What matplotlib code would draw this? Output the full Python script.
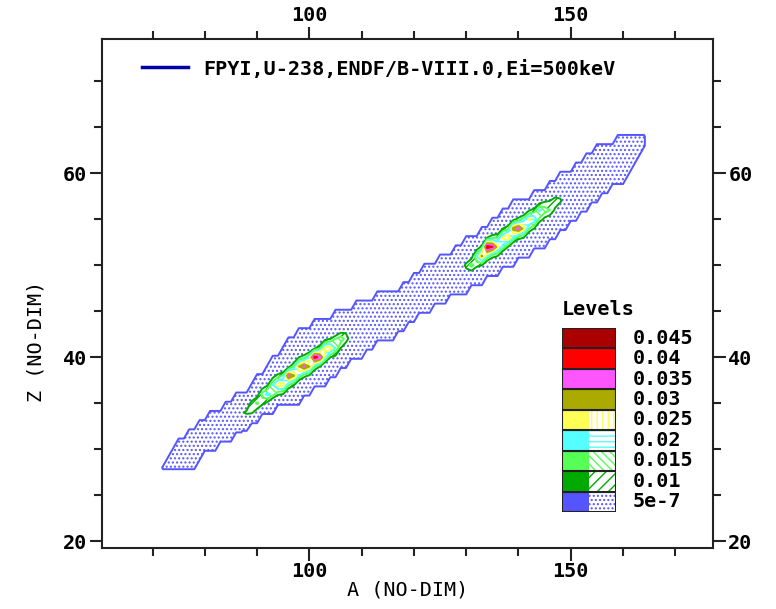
import numpy as np
import matplotlib
matplotlib.use('Agg')
import matplotlib.pyplot as plt
from matplotlib.ticker import MultipleLocator

# Nuclides tabulated in the evaluation: mass range covered for each charge Z
band_z = list(range(28, 65))
band_a_min = [72, 73, 74, 75, 77, 79, 81, 84, 86, 89, 90, 92, 93, 95, 96, 98, 101, 105, 109,
              113, 118, 120, 122, 125, 128, 130, 133, 135, 137, 139, 143, 146, 148, 151, 153, 155, 159]
band_a_max = [78, 79, 82, 85, 87, 90, 93, 98, 100, 103, 105, 107, 110, 112, 116, 118, 120, 123, 126,
              130, 133, 136, 139, 142, 145, 147, 149, 151, 153, 155, 157, 160, 161, 162, 163, 164, 164]
band_yield = 6e-7

# Light peak: independent yields at Z-1, Z, Z+1 around the most probable charge
light_mass = list(range(86, 110))
light_z = [34, 34, 34, 35, 35, 36, 36, 37, 37, 37, 38, 38, 39, 39, 39, 40, 40, 41, 41, 41, 42, 42, 43, 43]
light_low = [0.005, 0.004, 0.004, 0.011, 0.006, 0.012, 0.008, 0.018, 0.011, 0.010, 0.016, 0.011,
             0.020, 0.012, 0.009, 0.016, 0.010, 0.022, 0.010, 0.008, 0.010, 0.005, 0.006, 0.003]
light_mid = [0.007, 0.009, 0.011, 0.012, 0.016, 0.017, 0.022, 0.020, 0.027, 0.028, 0.036, 0.031,
             0.030, 0.036, 0.030, 0.042, 0.038, 0.027, 0.028, 0.020, 0.018, 0.013, 0.008, 0.006]
light_high = [0.002, 0.004, 0.006, 0.004, 0.007, 0.005, 0.009, 0.007, 0.012, 0.016, 0.007, 0.016,
              0.010, 0.013, 0.022, 0.009, 0.014, 0.008, 0.010, 0.015, 0.006, 0.008, 0.004, 0.003]

# Heavy peak
heavy_mass = list(range(128, 151))
heavy_z = [49, 49, 50, 50, 51, 51, 52, 52, 52, 53, 53, 54, 54, 54, 55, 55, 56, 56, 56, 57, 57, 58, 58]
heavy_low = [0.002, 0.003, 0.006, 0.005, 0.012, 0.010, 0.020, 0.012, 0.010, 0.018, 0.010, 0.020,
             0.012, 0.010, 0.016, 0.010, 0.014, 0.008, 0.006, 0.009, 0.005, 0.006, 0.003]
heavy_mid = [0.006, 0.008, 0.012, 0.017, 0.020, 0.031, 0.043, 0.040, 0.027, 0.026, 0.030, 0.032,
             0.037, 0.028, 0.026, 0.024, 0.021, 0.018, 0.015, 0.013, 0.011, 0.008, 0.005]
heavy_high = [0.002, 0.005, 0.003, 0.007, 0.005, 0.012, 0.010, 0.014, 0.016, 0.010, 0.014, 0.008,
              0.012, 0.018, 0.009, 0.012, 0.006, 0.009, 0.010, 0.005, 0.007, 0.003, 0.003]

levels = [5e-7, 0.01, 0.015, 0.02, 0.025, 0.03, 0.035, 0.04, 0.045]
level_labels = ['5e-7', '0.01', '0.015', '0.02', '0.025', '0.03', '0.035', '0.04', '0.045']
level_colors = ['#5555ff', '#00aa00', '#55ff55', '#55ffff', '#ffff55',
                '#aaaa00', '#ff55ff', '#ff0000', '#aa0000']
level_hatches = ['....', '///', '\\\\\\\\', '---', '|||', None, None, None, None]

plt.rcParams['font.family'] = ['DejaVu Sans Mono']
plt.rcParams['font.weight'] = 'bold'
plt.rcParams['font.size'] = 14.5

# Build the yield map on the integer (A, Z) grid
a_grid = np.arange(60, 179)
z_grid = np.arange(19, 76)
yields = np.zeros((len(z_grid), len(a_grid)))
for z, a0, a1 in zip(band_z, band_a_min, band_a_max):
    yields[z - z_grid[0], a0 - a_grid[0]:a1 - a_grid[0] + 1] = band_yield
for masses, zc, lo, mid, hi in [(light_mass, light_z, light_low, light_mid, light_high),
                                (heavy_mass, heavy_z, heavy_low, heavy_mid, heavy_high)]:
    for a, z, y0, y1, y2 in zip(masses, zc, lo, mid, hi):
        col = a - a_grid[0]
        for dz, y in zip((-1, 0, 1), (y0, y1, y2)):
            row = z + dz - z_grid[0]
            yields[row, col] = max(y, yields[row, col])

fig = plt.figure(figsize=(7.76, 6.09), dpi=100)
ax = fig.add_axes([0.1314, 0.1002, 0.7874, 0.8358])

bounds = levels + [1.0]
for lo, hi, color, hatch in zip(bounds[:-1], bounds[1:], level_colors, level_hatches):
    if hatch:
        with plt.rc_context({'hatch.color': color, 'hatch.linewidth': 1.0}):
            ax.contourf(a_grid, z_grid, yields, levels=[lo, hi], colors='white', hatches=[hatch])
    else:
        ax.contourf(a_grid, z_grid, yields, levels=[lo, hi], colors=[color])
ax.contour(a_grid, z_grid, yields, levels=levels, colors=level_colors, linewidths=1.4)

ax.set_xlim(60.33, 177.2)
ax.set_ylim(19.27, 74.6)

# top legend
ax.plot([], [], color='#0000aa', lw=2.5, label='FPYI,U-238,ENDF/B-VIII.0,Ei=500keV')
ax.legend(loc='center left', bbox_to_anchor=(0.065, 0.941), frameon=False, handlelength=2.3,
          handletextpad=0.75, borderpad=0, borderaxespad=0)

# level key
key = ax.inset_axes([0.753, 0.0707, 0.0884, 0.3615])
for i, (color, hatch) in enumerate(zip(level_colors, level_hatches)):
    key.barh(i, 0.5 if hatch else 1.0, left=0, height=1, color=color, linewidth=0)
    if hatch:
        key.barh(i, 0.5, left=0.5, height=1, facecolor='white', edgecolor=color,
                 hatch=hatch, linewidth=0)
    key.barh(i, 1.0, left=0, height=1, fill=False, edgecolor='#222222', linewidth=1.5)
    key.text(1.3, i, level_labels[i], va='center', ha='left', clip_on=False)
key.text(0.0, 9.4, 'Levels', va='center', ha='left', clip_on=False)
key.set_xlim(0, 1)
key.set_ylim(-0.5, 8.5)
key.axis('off')

ax.xaxis.set_major_locator(MultipleLocator(50))
ax.xaxis.set_minor_locator(MultipleLocator(10))
ax.yaxis.set_major_locator(MultipleLocator(20))
ax.yaxis.set_minor_locator(MultipleLocator(5))
ax.tick_params(which='both', direction='out', top=True, right=True, labeltop=True,
               labelright=True, width=1.5, color='#222222', pad=2)
ax.tick_params(axis='x', which='major', length=9, pad=1)
ax.tick_params(axis='x', which='minor', length=5.5)
ax.tick_params(axis='y', which='major', length=9)
ax.tick_params(axis='y', which='minor', length=5.5)
for spine in ax.spines.values():
    spine.set_linewidth(1.5)
    spine.set_color('#222222')

ax.set_xlabel('A (NO-DIM)', labelpad=0)
ax.set_ylabel('Z (NO-DIM)')
ax.yaxis.set_label_coords(-0.093, 0.405)

fig.savefig('out.png', dpi=100)
